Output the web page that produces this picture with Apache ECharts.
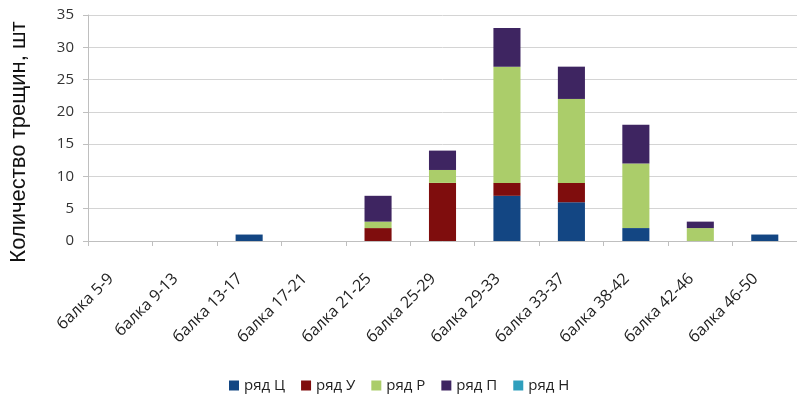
<!DOCTYPE html>
<html><head><meta charset="utf-8">
<script src="https://cdn.jsdelivr.net/npm/echarts@6/dist/echarts.min.js"></script>
<style>html,body{margin:0;padding:0;background:#fff}#c{width:797px;height:394px}</style>
</head><body><div id="c"></div>
<script>
const categories = ['балка 5-9','балка 9-13','балка 13-17','балка 17-21','балка 21-25','балка 25-29','балка 29-33','балка 33-37','балка 38-42','балка 42-46','балка 46-50'];
const seriesNames = ['ряд Ц','ряд У','ряд Р','ряд П','ряд Н'];
const rowC = [0,0,1,0,0,0,7,6,2,0,1];
const rowU = [0,0,0,0,2,9,2,3,0,0,0];
const rowR = [0,0,0,0,1,2,18,13,10,2,0];
const rowP = [0,0,0,0,4,3,6,5,6,1,0];
const rowN = [0,0,0,0,0,0,0,0,0,0,0];
const colors = ['#134683','#7f0d0d','#abcd6a','#3e2561','#2f9fbd'];
const yTicks = {min:0,max:35,interval:5};
const yTitle = 'Количество трещин, шт';
const data = [rowC,rowU,rowR,rowP,rowN];
const chart = echarts.init(document.getElementById('c'));
chart.setOption({
  animation:false,
  color:colors,
  textStyle:{fontFamily:'Open Sans, Noto Sans, sans-serif'},
  grid:{left:88,right:-4,top:15,bottom:153,containLabel:false},
  legend:{top:373,left:224,itemWidth:10,itemHeight:10,itemGap:16,icon:'rect',
    textStyle:{fontSize:15,color:'#222'},data:seriesNames},
  graphic:[{type:'text',rotation:Math.PI/2,
    x:19,y:142,
    style:{text:yTitle,fontSize:22,fontFamily:'Liberation Sans, Arial, sans-serif',fill:'#111',
      textAlign:'center',textVerticalAlign:'middle'}}],
  xAxis:{type:'category',data:categories,
    axisLine:{lineStyle:{color:'#bfbfbf'}},
    axisTick:{show:true,alignWithLabel:false,length:5,lineStyle:{color:'#bfbfbf'}},
    axisLabel:{rotate:45,color:'#222',margin:26,interval:0,
      formatter:v=>'{a|'+v+'}',
      rich:{a:{fontSize:16,color:'#222',padding:[0,13,0,0]}}}},
  yAxis:{type:'value',min:yTicks.min,max:yTicks.max,interval:yTicks.interval,
    axisLine:{show:true,lineStyle:{color:'#bfbfbf'}},
    axisTick:{show:true,length:5,lineStyle:{color:'#bfbfbf'}},
    axisLabel:{fontSize:15,color:'#333',margin:14},
    splitLine:{lineStyle:{color:'#d4d4d4'}}},
  series:seriesNames.map((n,i)=>({name:n,type:'bar',stack:'a',barWidth:'42%',data:data[i]}))
});
</script></body></html>
